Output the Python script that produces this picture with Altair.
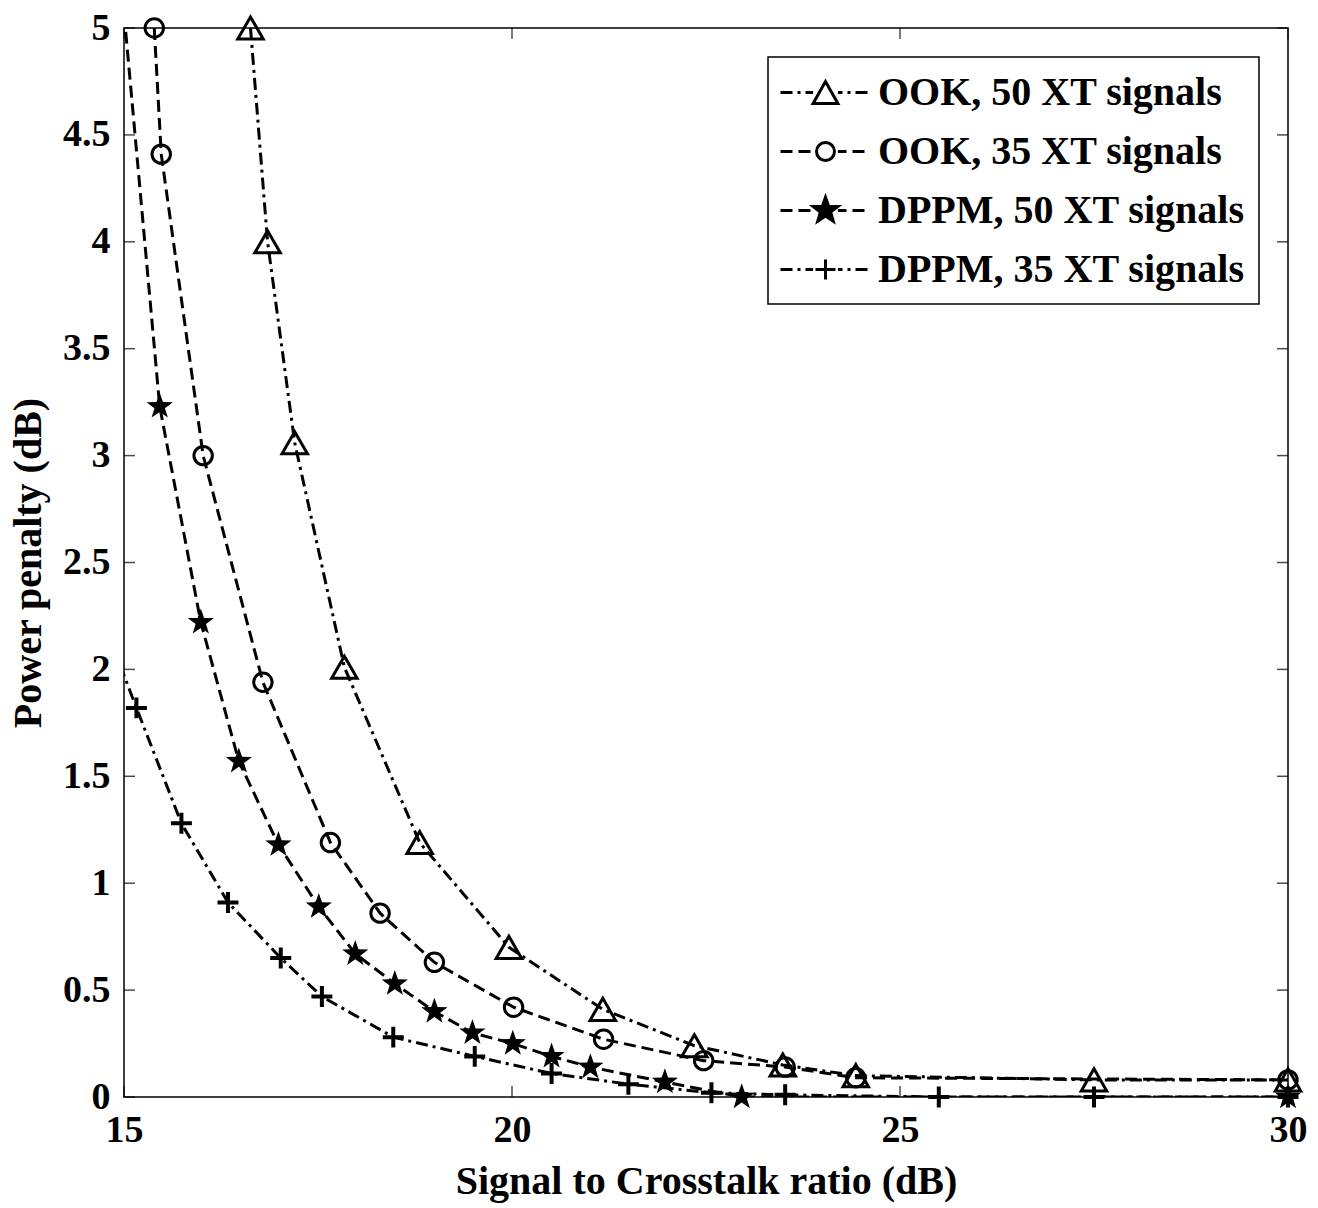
import math
import altair as alt
import pandas as pd

# ---- data -------------------------------------------------------------
series_names = [
    "OOK, 50 XT signals",
    "OOK, 35 XT signals",
    "DPPM, 50 XT signals",
    "DPPM, 35 XT signals",
]

ook50_x = [16.63, 16.85, 17.2, 17.84, 18.81, 19.96, 21.17, 22.35, 23.49, 24.43, 27.5, 30.0]
ook50_y = [5.0, 4.0, 3.06, 2.01, 1.19, 0.70, 0.41, 0.24, 0.15, 0.10, 0.08, 0.08]

ook35_x = [15.39, 15.48, 16.02, 16.79, 17.66, 18.3, 19.0, 20.02, 21.18, 22.47, 23.52, 24.43, 30.0]
ook35_y = [5.0, 4.41, 3.0, 1.94, 1.19, 0.86, 0.63, 0.42, 0.27, 0.17, 0.14, 0.09, 0.08]

dppm50_x = [14.98, 15.46, 15.99, 16.48, 16.99, 17.51, 17.98, 18.49, 19.0, 19.49, 20.01, 20.51, 21.01, 21.97, 22.96, 30.0]
dppm50_y = [5.15, 3.23, 2.22, 1.57, 1.18, 0.89, 0.67, 0.53, 0.40, 0.30, 0.25, 0.19, 0.14, 0.07, 0.0, 0.0]

dppm35_x = [14.95, 15.16, 15.74, 16.34, 17.02, 17.55, 18.47, 19.52, 20.51, 21.5, 22.57, 23.52, 25.5, 27.5, 30.0]
dppm35_y = [2.02, 1.82, 1.28, 0.91, 0.65, 0.47, 0.28, 0.19, 0.11, 0.06, 0.02, 0.01, 0.0, 0.0, 0.0]

x_ticks = [15, 20, 25, 30]
y_ticks = [0, 0.5, 1, 1.5, 2, 2.5, 3, 3.5, 4, 4.5, 5]

X_MIN, X_MAX, Y_MIN, Y_MAX = 15, 30, 0, 5

series_xy = [(ook50_x, ook50_y), (ook35_x, ook35_y), (dppm50_x, dppm50_y), (dppm35_x, dppm35_y)]
rows = []
for name, (xs, ys) in zip(series_names, series_xy):
    for xv, yv in zip(xs, ys):
        rows.append({"series": name, "x": xv, "y": yv})
df = pd.DataFrame(rows)

# ---- styling helpers --------------------------------------------------
FONT = "Liberation Serif"
W, H = 1164, 1069
DASHED = [12, 6]
DASHDOT = [12, 5, 3, 5]
LINE_W = 3


def star_path(r_out, r_in):
    pts = []
    for k in range(10):
        r = r_out if k % 2 == 0 else r_in
        a = math.radians(-90 + 36 * k)
        pts.append(f"{r * math.cos(a):.3f},{r * math.sin(a):.3f}")
    return "M" + "L".join(pts) + "Z"


def circle_path(r):
    return f"M{r},0A{r},{r} 0 1,1 {-r},0A{r},{r} 0 1,1 {r},0Z"


PLUS = "M-1,0L1,0M0,-1L0,1"

# marker style per series: shape, size, filled, stroke width
marker_style = [
    ("triangle-up", 650, False, 3),
    ("circle", 340, False, 3),
    (star_path(1, 0.4), 760, True, 1.0),
    (PLUS, 440, False, 4),
]
line_dash = [DASHDOT, DASHED, DASHED, DASHDOT]

# legend symbols: a short patterned line with the marker in the middle
LEG_UNIT = 20.0  # px per path unit for symbolSize 1600


def pattern_segments(pattern_px, x0, x1, gap):
    pat = [p / LEG_UNIT for p in pattern_px]
    segs = []
    pos, i, on = x0, 0, True
    while pos < x1:
        end = min(pos + pat[i % len(pat)], x1)
        if on:
            a, b = pos, end
            if b <= -gap or a >= gap:
                segs.append((a, b))
            else:
                if a < -gap:
                    segs.append((a, -gap))
                if b > gap:
                    segs.append((gap, b))
        pos, i, on = end, i + 1, not on
    return "".join(f"M{a:.3f},0L{b:.3f},0" for a, b in segs)


legend_markers = [
    "M0,-0.55L-0.62,0.55L0.62,0.55Z",
    circle_path(0.45),
    star_path(0.66, 0.27),
    "M-0.5,0L0.5,0M0,-0.5L0,0.5",
]
legend_paths = [
    pattern_segments(line_dash[i], -2.25, 2.25, 0.62) + legend_markers[i]
    for i in range(4)
]

x_scale = alt.Scale(domain=[X_MIN, X_MAX], nice=False, zero=False)
y_scale = alt.Scale(domain=[Y_MIN, Y_MAX], nice=False, zero=False)

x_axis = alt.Axis(
    values=x_ticks, ticks=False, domain=False, grid=False, format="~g",
    labelFlush=False,
    labelFont=FONT, labelFontSize=38, labelFontWeight="bold", labelColor="black",
    labelPadding=14, title="Signal to Crosstalk ratio (dB)",
    titleFont=FONT, titleFontSize=40, titleFontWeight="bold", titleColor="black",
    titlePadding=12,
)
y_axis = alt.Axis(
    values=y_ticks, ticks=False, domain=False, grid=False, format="~g",
    labelFlush=False,
    labelFont=FONT, labelFontSize=38, labelFontWeight="bold", labelColor="black",
    labelPadding=14, title="Power penalty (dB)",
    titleFont=FONT, titleFontSize=40, titleFontWeight="bold", titleColor="black",
    titlePadding=14,
)


def X(field):
    return alt.X(field, scale=x_scale, axis=x_axis)


def Y(field):
    return alt.Y(field, scale=y_scale, axis=y_axis)


base = alt.Chart(df)

layers = []
for i, name in enumerate(series_names):
    layers.append(
        base.transform_filter(alt.datum.series == name)
        .mark_line(color="black", strokeWidth=LINE_W, strokeDash=line_dash[i], clip=True)
        .encode(x=X("x:Q"), y=Y("y:Q"), order="x:Q")
    )

for i, name in enumerate(series_names):
    shape, size, filled, sw = marker_style[i]
    layers.append(
        base.transform_filter(
            (alt.datum.series == name) & (alt.datum.x >= X_MIN) & (alt.datum.y <= Y_MAX)
        )
        .mark_point(
            shape=shape, size=size, filled=filled, color="black",
            strokeWidth=sw, opacity=1,
        )
        .encode(x=X("x:Q"), y=Y("y:Q"))
    )

legend_spec = alt.Legend(
    title=None, orient="none", legendX=644, legendY=29,
    symbolSize=1600, symbolOffset=22, labelOffset=31,
    padding=14, rowPadding=17,
    labelFont=FONT, labelFontSize=40, labelFontWeight="bold",
    labelColor="black", labelLimit=0,
    fillColor="white", strokeColor="black", cornerRadius=0,
    symbolStrokeWidth=LINE_W, symbolOpacity=1,
)

# invisible layer that only carries the legend
layers.append(
    base.mark_point(opacity=0, filled=True).encode(
        x=X("x:Q"),
        y=Y("y:Q"),
        shape=alt.Shape(
            "series:N",
            scale=alt.Scale(domain=series_names, range=legend_paths),
            legend=legend_spec,
        ),
        fill=alt.Fill(
            "series:N",
            scale=alt.Scale(domain=series_names, range=["white", "white", "black", "black"]),
            legend=legend_spec,
        ),
        stroke=alt.Stroke(
            "series:N",
            scale=alt.Scale(domain=series_names, range=["black"] * 4),
            legend=legend_spec,
        ),
    )
)

# inward tick marks on all four sides of the frame
xt = pd.DataFrame({"v": x_ticks})
yt = pd.DataFrame({"v": y_ticks})
tick_kw = dict(color="black", thickness=1.5, size=11)
layers += [
    alt.Chart(xt).mark_tick(orient="vertical", yOffset=-5.5, **tick_kw)
    .encode(x=X("v:Q"), y=alt.YDatum(Y_MIN, scale=y_scale)),
    alt.Chart(xt).mark_tick(orient="vertical", yOffset=5.5, **tick_kw)
    .encode(x=X("v:Q"), y=alt.YDatum(Y_MAX, scale=y_scale)),
    alt.Chart(yt).mark_tick(orient="horizontal", xOffset=5.5, **tick_kw)
    .encode(y=Y("v:Q"), x=alt.XDatum(X_MIN, scale=x_scale)),
    alt.Chart(yt).mark_tick(orient="horizontal", xOffset=-5.5, **tick_kw)
    .encode(y=Y("v:Q"), x=alt.XDatum(X_MAX, scale=x_scale)),
]

chart = (
    alt.layer(*layers)
    .properties(
        width=W, height=H,
        autosize=alt.AutoSizeParams(type="none"),
        padding={"left": 124, "top": 28, "right": 30, "bottom": 111},
        background="white",
    )
    .configure_view(stroke="black", strokeWidth=1.5)
    .configure_legend(strokeWidth=1.5)
)

chart.save("out.html", embed_options={"renderer": "svg", "actions": False})
